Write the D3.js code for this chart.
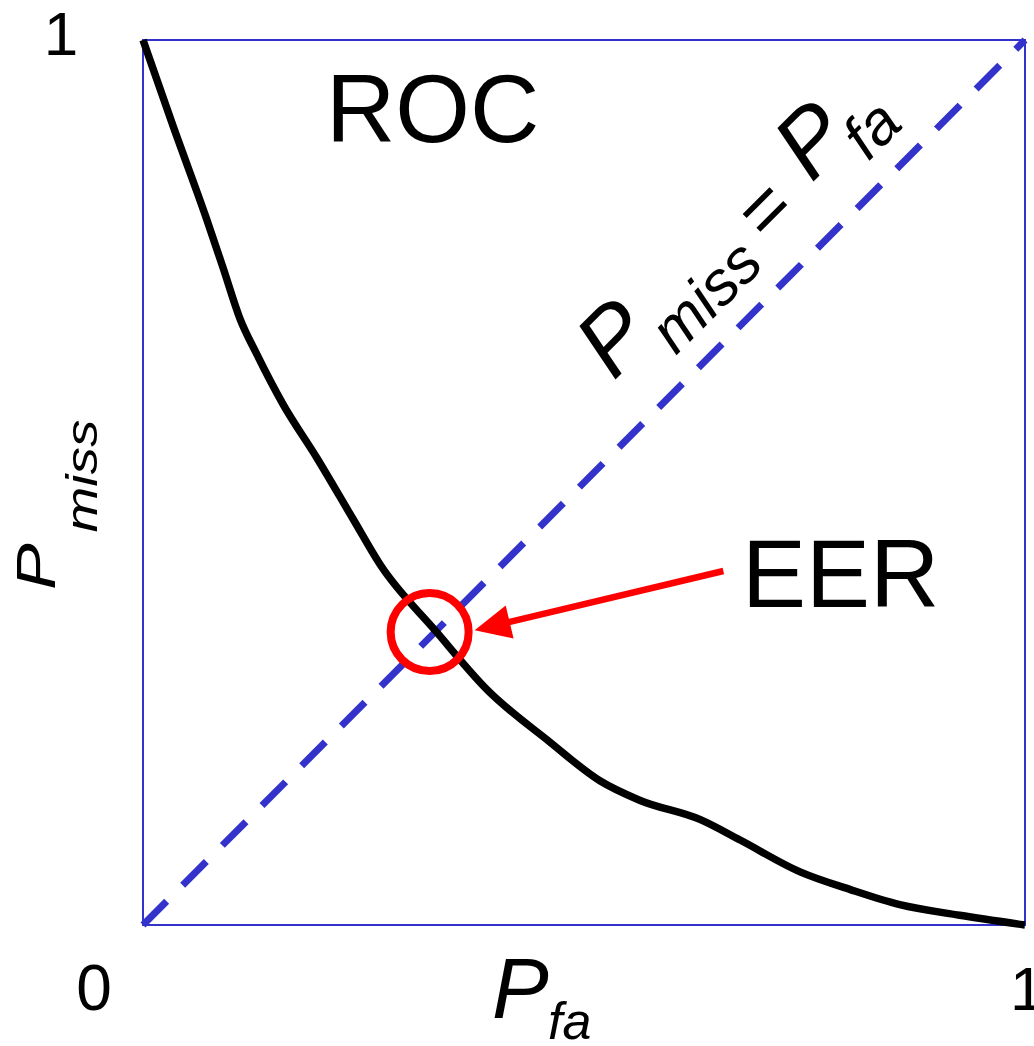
<!DOCTYPE html>
<html>
<head>
<meta charset="utf-8">
<script src="https://cdn.jsdelivr.net/npm/d3@7"></script>
<style>
  body { margin: 0; background: #fff; }
  text { font-family: "Liberation Sans", Arial, sans-serif; fill: #000; }
</style>
</head>
<body>
<div class="chart"></div>
<script>

// ROC curve values (false alarm vs miss probability)
var pfa   = [0, 0.034, 0.072, 0.091, 0.110, 0.129, 0.159, 0.197, 0.238, 0.269, 0.332, 0.390, 0.461, 0.518, 0.563, 0.632, 0.677, 0.745, 0.802, 0.858, 0.926, 1.0];
var pmiss = [1, 0.903, 0.798, 0.742, 0.685, 0.645, 0.588, 0.528, 0.459, 0.407, 0.332, 0.266, 0.207, 0.163, 0.141, 0.119, 0.096, 0.060, 0.040, 0.023, 0.011, 0.0];

// Equal error line and EER annotation
var diagonal = [0, 1];
var eerPoint = [0.325, 0.331];
var arrowFrom = [0.658, 0.400];
var arrowTo = [0.376, 0.333];

// Tick labels
var tickLabels = ["0", "1", "1"];

var width = 1034,
    height = 1046;
var margin = {top: 40, left: 143};
var plotW = 882,
    plotH = 885;

var blue = "#3333cc";

var svg = d3.select(".chart")
    .append("svg")
        .attr("width", width)
        .attr("height", height);

var g = svg.append("g")
    .attr("transform", "translate(" + margin.left + "," + margin.top + ")");

// Scales
var x = d3.scaleLinear().domain([0, 1]).range([0, plotW]);
var y = d3.scaleLinear().domain([0, 1]).range([plotH, 0]);

// Plot frame
g.append("rect")
    .attr("x", x(0))
    .attr("y", y(1))
    .attr("width", x(1) - x(0))
    .attr("height", y(0) - y(1))
    .style("fill", "none")
    .style("stroke", blue)
    .style("stroke-width", 2);

// Dashed Pmiss = Pfa line
g.append("line")
    .attr("x1", x(diagonal[0]))
    .attr("y1", y(diagonal[0]))
    .attr("x2", x(diagonal[1]))
    .attr("y2", y(diagonal[1]))
    .style("stroke", blue)
    .style("stroke-width", 7)
    .style("stroke-dasharray", "33.5,22.7");

// ROC curve
var line = d3.line()
    .x(function(d) { return x(d[0]); })
    .y(function(d) { return y(d[1]); })
    .curve(d3.curveMonotoneX);

g.append("path")
    .datum(d3.zip(pfa, pmiss))
    .attr("d", line)
    .style("fill", "none")
    .style("stroke", "#000")
    .style("stroke-width", 7.5);

// EER circle
g.append("circle")
    .attr("cx", x(eerPoint[0]))
    .attr("cy", y(eerPoint[1]))
    .attr("r", 39)
    .style("fill", "none")
    .style("stroke", "#ff0000")
    .style("stroke-width", 8);

// EER arrow: shaft plus head
var ax0 = x(arrowFrom[0]), ay0 = y(arrowFrom[1]);
var ax1 = x(arrowTo[0]), ay1 = y(arrowTo[1]);
var len = Math.sqrt((ax1 - ax0) * (ax1 - ax0) + (ay1 - ay0) * (ay1 - ay0));
var ux = (ax1 - ax0) / len, uy = (ay1 - ay0) / len;
var headLen = 36, headHalf = 17;
var bx = ax1 - ux * headLen, by = ay1 - uy * headLen;

g.append("line")
    .attr("x1", ax0)
    .attr("y1", ay0)
    .attr("x2", bx + ux * 2)
    .attr("y2", by + uy * 2)
    .style("stroke", "#ff0000")
    .style("stroke-width", 6.5);

g.append("path")
    .attr("d", "M" + ax1 + "," + ay1 +
        "L" + (bx - uy * headHalf) + "," + (by + ux * headHalf) +
        "L" + (bx + uy * headHalf) + "," + (by - ux * headHalf) + "Z")
    .style("fill", "#ff0000");

// Corner tick labels
svg.append("text")
    .attr("x", margin.left + x(0) - 49)
    .attr("y", margin.top + y(0) + 85)
    .attr("text-anchor", "middle")
    .style("font-size", "64px")
    .text(tickLabels[0]);

svg.append("text")
    .attr("x", margin.left + x(0) - 82)
    .attr("y", margin.top + y(1) + 15)
    .attr("text-anchor", "middle")
    .style("font-size", "62px")
    .text(tickLabels[1]);

svg.append("text")
    .attr("x", margin.left + x(1) - 15)
    .attr("y", margin.top + y(0) + 85)
    .style("font-size", "62px")
    .text(tickLabels[2]);

// Titles
svg.append("text")
    .attr("x", 326)
    .attr("y", 142)
    .style("font-size", "96px")
    .text("ROC");

svg.append("text")
    .attr("x", 742)
    .attr("y", 607)
    .style("font-size", "96px")
    .text("EER");

// X label
var xl = svg.append("text")
    .style("font-style", "italic");
xl.append("tspan")
    .attr("x", 492)
    .attr("y", 1018)
    .style("font-size", "85px")
    .text("P");
xl.append("tspan")
    .attr("x", 548)
    .attr("y", 1039)
    .style("font-size", "52px")
    .text("fa");

// Y label, stretched along its baseline
var yl = svg.append("g")
    .attr("transform", "translate(55,590) rotate(-90) scale(1.25,1)")
    .append("text")
    .style("font-style", "italic");
yl.append("tspan")
    .attr("x", 0)
    .attr("y", 0)
    .style("font-size", "56px")
    .text("P");
yl.append("tspan")
    .attr("x", 46)
    .attr("y", 42)
    .style("font-size", "44px")
    .text("miss");

// Label along the diagonal
var dl = svg.append("g")
    .attr("transform", "translate(617,378) rotate(-45)");
dl.append("text")
    .attr("x", -5)
    .attr("y", 0)
    .style("font-style", "italic")
    .style("font-size", "92px")
    .text("P");
dl.append("text")
    .attr("x", 57)
    .attr("y", 26)
    .style("font-style", "italic")
    .style("font-size", "62px")
    .text("miss");
dl.append("text")
    .attr("x", 201)
    .attr("y", 11)
    .style("font-size", "78px")
    .text("=");
dl.append("text")
    .attr("x", 275)
    .attr("y", 0)
    .style("font-style", "italic")
    .style("font-size", "92px")
    .text("P");
dl.append("text")
    .attr("x", 330)
    .attr("y", 25)
    .style("font-style", "italic")
    .style("font-size", "62px")
    .text("fa");

</script>
</body>
</html>
